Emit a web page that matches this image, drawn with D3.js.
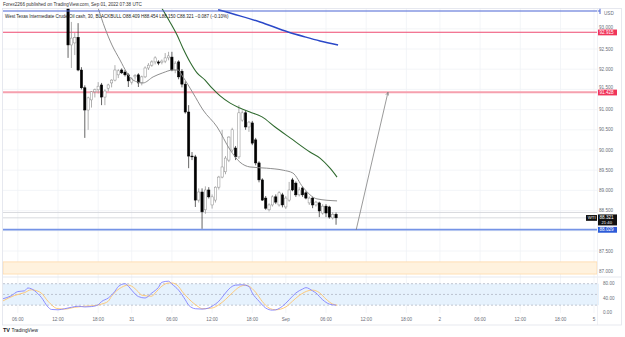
<!DOCTYPE html>
<html>
<head>
<meta charset="utf-8">
<script src="https://cdn.jsdelivr.net/npm/d3@7/dist/d3.min.js"></script>
<style>
body { margin: 0; background: #fff; }
svg text { font-family: "Liberation Sans", Arial, sans-serif; }
</style>
</head>
<body>
<script>
// ---- data (bar index = 30 min bars, 0 = Aug 30 06:00) ----
var timeTickLabels = ["06:00","12:00","18:00","31","06:00","12:00","18:00","Sep","06:00","12:00","18:00","2","06:00","12:00","18:00","5"];
var timeTickBars   = [0, 12, 24, 34, 46, 58, 70, 80, 92, 104, 116, 126, 138, 150, 162, 172];
var priceTicks = [87, 87.5, 88, 88.5, 89, 89.5, 90, 90.5, 91, 91.5, 92, 92.5, 93];

var firstBar = 15;
var candleOpen  = [93.65,92.60,92.65,92.79,91.98,91.54,90.99,91.24,91.44,91.49,91.61,91.31,91.53,91.66,91.73,91.86,91.98,91.93,91.86,91.68,
                   91.81,91.86,91.66,91.81,92.03,92.10,92.18,92.18,92.16,92.20,92.28,92.30,91.98,92.18,91.95,91.63,90.94,89.85,89.83,88.76,
                   88.96,88.52,89.01,88.64,88.76,89.08,89.33,89.46,89.75,90.00,90.05,89.83,90.74,90.92,90.57,90.67,90.25,89.68,89.26,88.81,
                   88.52,88.64,88.84,88.64,88.89,88.59,88.76,89.26,89.18,88.89,89.06,88.94,88.69,88.81,88.64,88.69,88.44,88.61,88.59,88.32,88.409];
var candleHigh  = [93.75,93.17,92.90,93.14,92.05,91.60,91.32,91.46,91.52,91.68,91.66,91.50,91.64,91.75,92.10,92.00,92.02,91.98,91.90,91.80,
                   91.88,91.90,91.84,92.07,92.15,92.22,92.32,92.22,92.24,92.40,92.43,92.43,92.20,92.22,92.00,91.70,91.11,89.95,89.88,89.05,
                   89.05,89.10,89.08,88.90,89.10,89.36,90.50,89.85,90.34,90.55,90.10,91.11,90.98,90.98,90.72,90.72,90.30,89.72,89.30,88.86,
                   88.68,88.88,88.90,88.98,88.94,88.86,89.21,89.31,89.22,89.08,89.10,88.98,88.85,88.84,88.74,88.72,88.66,88.66,88.62,88.46,88.454];
var candleLow   = [92.28,92.03,92.35,91.95,91.50,90.30,90.50,91.05,91.30,91.40,91.11,91.11,91.45,91.55,91.70,91.78,91.88,91.82,91.56,91.62,
                   91.74,91.56,91.60,91.78,91.98,92.06,92.12,92.10,92.12,92.15,92.22,91.95,91.90,91.75,91.55,90.90,89.55,89.75,88.59,88.70,
                   88.05,88.42,88.80,88.55,88.70,89.02,89.30,89.40,89.70,89.95,89.75,89.78,90.70,90.50,90.45,90.12,89.62,89.20,88.74,88.52,
                   88.48,88.60,88.66,88.60,88.58,88.54,88.72,88.98,88.84,88.85,88.84,88.78,88.64,88.56,88.60,88.34,88.40,88.34,88.30,88.28,88.150];
var candleClose = [92.60,92.77,92.78,91.98,91.54,90.99,91.29,91.44,91.49,91.58,91.31,91.46,91.61,91.73,91.98,91.96,91.91,91.86,91.71,91.76,
                   91.84,91.66,91.81,92.03,92.10,92.18,92.28,92.15,92.20,92.28,92.33,91.98,92.15,91.81,91.63,90.94,89.85,89.83,88.76,88.96,
                   88.47,89.01,88.84,88.84,89.08,89.33,89.58,89.80,90.32,90.50,89.83,90.92,90.92,90.57,90.69,90.17,89.68,89.26,88.76,88.56,
                   88.64,88.84,88.71,88.94,88.64,88.81,89.01,89.01,88.89,89.01,88.89,88.81,88.81,88.64,88.71,88.49,88.61,88.44,88.34,88.41,88.321];

var grayMaBars = [24, 26, 28.1, 30.5, 32.6, 34.4, 37.4, 40.4, 43.3, 46.3, 47.8, 49.3, 52.3, 55.3, 59.5, 63.4, 66.3, 69.3, 74.3, 79.2, 82.1, 85.1, 89.3, 95.3];
var grayMa     = [93.51, 93.02, 92.60, 92.23, 91.91, 91.73, 91.66, 91.81, 91.91, 91.98, 91.98, 91.81, 91.41, 90.99, 90.57, 90.00, 89.70, 89.58, 89.55, 89.50, 89.43, 89.08, 88.79, 88.74];
var greenMaBars = [43, 45.4, 47.5, 49.3, 51.4, 53.5, 55.9, 58, 60.4, 63.4, 66.3, 69.3, 72.9, 76.8, 81.3, 87.2, 90.2, 93.2, 95.3];
var greenMa     = [93.51, 93.17, 92.85, 92.52, 92.18, 91.91, 91.73, 91.53, 91.34, 91.16, 91.04, 90.94, 90.82, 90.57, 90.30, 89.95, 89.80, 89.55, 89.33];
var blueMaBars = [59.8, 66.3, 72.3, 80.7, 85.7, 90.2, 95.6];
var blueMa     = [93.47, 93.32, 93.17, 92.92, 92.80, 92.70, 92.60];

var levelPrices = [92.915, 91.428, 88.029];
var levelLabels = ["92.915", "91.428", "88.029"];
var topLinePrice = 93.44;
var zoneTop = 87.23, zoneBottom = 86.93;
var arrowBars = [101, 110.5];
var arrowPrices = [88.02, 91.43];
var lastPrice = 88.321, lastHigh = 88.454;

var stochKBars = [-4.4,-2,0,2,3,4,6,7,9,10,12,14,16,18,20,22,24,25,27,29,30,32,33,34,36,38,40,42,43,45,46,48,50,51,53,55,57,58,60,62,63,65,67,69,70,72,74,76,77,79,81,83,85,86,88,89,91,93,95];
var stochK     = [38,46,58,60,68,66,52,42,15,8,7,10,14,17,15,16,21,30,40,59,72,80,73,62,44,40,54,70,84,87,79,62,35,20,10,9,12,17,31,54,65,76,77,72,54,31,12,6,7,17,35,54,65,69,60,54,35,23,20];
var stochDBars = [-4.4,-1,2,4,6,7,9,12,14,17,20,22,25,27,28,31,33,34,36,37,40,41,43,45,46,48,49,51,54,55,58,60,62,64,66,68,69,71,73,75,77,80,82,84,87,88,90,92,94,95.4];
var stochD     = [32,47,55,63,59,54,31,10,9,14,17,18,23,31,45,70,76,73,57,48,45,54,73,82,82,72,59,38,15,10,12,21,36,54,70,76,73,56,30,12,7,15,31,47,61,62,55,37,23,20];
var stochTicks = [80, 40, 0];

// ---- layout ----
var W = 625, H = 337;
var paneL = 3, paneR = 597, mainTop = 8, mainBot = 277, oscBot = 313;

var svg = d3.select("body").append("svg")
    .attr("width", W).attr("height", H);

var x = d3.scaleLinear().domain([0, 172]).range([17.8, 594]);
var y = d3.scaleLinear().domain([87, 93]).range([271.2, 28.8]);
var yOsc = d3.scaleLinear().domain([0, 80]).range([312.3, 283.7]);

svg.append("defs").append("clipPath").attr("id", "mainClip")
  .append("rect").attr("x", paneL).attr("y", mainTop)
  .attr("width", paneR - paneL).attr("height", mainBot - mainTop);

// grid
svg.append("g").selectAll("line").data(timeTickBars).enter().append("line")
    .attr("x1", function(d){ return x(d); }).attr("x2", function(d){ return x(d); })
    .attr("y1", mainTop).attr("y2", oscBot)
    .attr("stroke", "#f0f2f6").attr("stroke-width", 0.8);
svg.append("g").selectAll("line").data(priceTicks).enter().append("line")
    .attr("x1", paneL).attr("x2", paneR)
    .attr("y1", function(d){ return y(d); }).attr("y2", function(d){ return y(d); })
    .attr("stroke", "#f0f2f6").attr("stroke-width", 0.8);

// orange zone
svg.append("rect")
    .attr("x", paneL).attr("width", paneR - paneL)
    .attr("y", y(zoneTop)).attr("height", y(zoneBottom) - y(zoneTop))
    .attr("fill", "#fff2de").attr("stroke", "#ffd9a8").attr("stroke-width", 0.8);

var main = svg.append("g").attr("clip-path", "url(#mainClip)");

// horizontal levels
var levelColors = ["#ee4a70", "#f6a0ae", "#7593e6"];
var levelWidths = [1.2, 2, 1.6];
levelPrices.forEach(function(p, i){
  main.append("line")
    .attr("x1", paneL).attr("x2", paneR)
    .attr("y1", y(p)).attr("y2", y(p))
    .attr("stroke", levelColors[i]).attr("stroke-width", levelWidths[i]);
});
// current price / high lines
[lastHigh, lastPrice].forEach(function(p){
  main.append("line")
    .attr("x1", paneL).attr("x2", paneR)
    .attr("y1", y(p)).attr("y2", y(p))
    .attr("stroke", "#cfd1d6").attr("stroke-width", 0.8);
});

// candles
var candles = candleOpen.map(function(o, i){
  return { bar: firstBar + i, o: o, h: candleHigh[i], l: candleLow[i], c: candleClose[i] };
});
var cg = main.append("g");
cg.selectAll("line.wick").data(candles).enter().append("line")
    .attr("class", "wick")
    .attr("x1", function(d){ return x(d.bar); }).attr("x2", function(d){ return x(d.bar); })
    .attr("y1", function(d){ return y(d.h); }).attr("y2", function(d){ return y(d.l); })
    .attr("stroke", function(d){ return d.c < d.o ? "#222" : "#8c8c8c"; })
    .attr("stroke-width", 0.7);
cg.selectAll("rect").data(candles).enter().append("rect")
    .attr("x", function(d){ return x(d.bar) - 1.15; })
    .attr("width", 2.3)
    .attr("y", function(d){ return y(Math.max(d.o, d.c)); })
    .attr("height", function(d){ return Math.max(0.8, Math.abs(y(d.o) - y(d.c))); })
    .attr("fill", function(d){ return d.c < d.o ? "#000" : "#fff"; })
    .attr("stroke", function(d){ return d.c < d.o ? "#000" : "#8c8c8c"; })
    .attr("stroke-width", 0.5);

// moving averages
function maLine(bars, vals, color, width){
  var pts = bars.map(function(b, i){ return [b, vals[i]]; });
  main.append("path").datum(pts)
    .attr("d", d3.line().x(function(d){ return x(d[0]); }).y(function(d){ return y(d[1]); }).curve(d3.curveMonotoneX))
    .attr("fill", "none").attr("stroke", color).attr("stroke-width", width);
}
maLine(grayMaBars, grayMa, "#8f8f8f", 1);
maLine(greenMaBars, greenMa, "#2f6a2f", 1.1);
maLine(blueMaBars, blueMa, "#2a48c8", 1.5);

// top blue line
svg.append("line")
    .attr("x1", paneL).attr("x2", 600)
    .attr("y1", y(topLinePrice)).attr("y2", y(topLinePrice))
    .attr("stroke", "#4a64d4").attr("stroke-width", 1.1);
svg.append("line")
    .attr("x1", 600).attr("x2", 600)
    .attr("y1", y(topLinePrice) - 3).attr("y2", y(topLinePrice) + 3)
    .attr("stroke", "#4a64d4").attr("stroke-width", 1);

// arrow
svg.select("defs").append("marker").attr("id", "arrowHead")
    .attr("viewBox", "0 0 10 10").attr("refX", 9).attr("refY", 5)
    .attr("markerWidth", 5).attr("markerHeight", 5).attr("orient", "auto")
  .append("path").attr("d", "M1,1 L9,5 L1,9").attr("fill", "none")
    .attr("stroke", "#777").attr("stroke-width", 1.4);
svg.append("line")
    .attr("x1", x(arrowBars[0])).attr("y1", y(arrowPrices[0]))
    .attr("x2", x(arrowBars[1])).attr("y2", y(arrowPrices[1]))
    .attr("stroke", "#808080").attr("stroke-width", 0.8)
    .attr("marker-end", "url(#arrowHead)");

// oscillator pane
svg.append("rect")
    .attr("x", paneL).attr("width", paneR + 2 - paneL)
    .attr("y", yOsc(80)).attr("height", yOsc(20) - yOsc(80))
    .attr("fill", "#e6f2fd");
[80, 50, 20].forEach(function(v){
  svg.append("line")
    .attr("x1", paneL).attr("x2", paneR + 2)
    .attr("y1", yOsc(v)).attr("y2", yOsc(v))
    .attr("stroke", "#a9b0bd").attr("stroke-width", 0.7)
    .attr("stroke-dasharray", "2,2");
});
function oscLine(bars, vals, color){
  var pts = bars.map(function(b, i){ return [b, vals[i]]; });
  svg.append("path").datum(pts)
    .attr("d", d3.line().x(function(d){ return Math.max(paneL, x(d[0])); }).y(function(d){ return yOsc(d[1]); }).curve(d3.curveMonotoneX))
    .attr("fill", "none").attr("stroke", color).attr("stroke-width", 0.9);
}
oscLine(stochDBars, stochD, "#ffc46b");
oscLine(stochKBars, stochK, "#8282ff");

// separators and frame
svg.append("line").attr("x1", paneL).attr("x2", 621).attr("y1", mainBot).attr("y2", mainBot)
    .attr("stroke", "#e0e3eb").attr("stroke-width", 0.8);
svg.append("line").attr("x1", paneR + 0.5).attr("x2", paneR + 0.5).attr("y1", mainTop).attr("y2", 325)
    .attr("stroke", "#eceef2").attr("stroke-width", 0.8);
svg.append("rect").attr("x", 2.5).attr("y", 8.5).attr("width", 619).attr("height", 316.5)
    .attr("fill", "none").attr("stroke", "#e0e3eb").attr("stroke-width", 0.8);

// price axis labels (the level labels cover some; keep those just above their box)
var labelHalf = 2.7;
function tickBaseline(p){
  var base = y(p) + 1.6;
  levelPrices.forEach(function(lp){
    var top = y(lp) - labelHalf;
    if (base > top - 0.2 && y(p) < y(lp) + labelHalf) base = Math.min(base, top - 0.3);
  });
  return base;
}
svg.append("g").selectAll("text").data(priceTicks.filter(function(p){
      return levelPrices.every(function(lp){ return Math.abs(y(p) - y(lp)) > 2.5; });
    })).enter().append("text")
    .attr("x", 599).attr("y", function(d){ return tickBaseline(d); })
    .attr("font-size", 4.6).attr("fill", "#6a6d78")
    .text(function(d){ return d3.format(".3f")(d); });
svg.append("text").attr("x", 604).attr("y", 14.6).attr("font-size", 4.6).attr("fill", "#6a6d78").text("USD");

// level labels
var labelBg = ["#f0355a", "#f0355a", "#2d5bd8"];
levelPrices.forEach(function(p, i){
  svg.append("rect").attr("x", 598).attr("y", y(p) - labelHalf).attr("width", 19).attr("height", labelHalf * 2 + 0.4)
    .attr("fill", labelBg[i]);
  svg.append("text").attr("x", 599.5).attr("y", y(p) + 1.8)
    .attr("font-size", 4.6).attr("fill", "#fff").text(levelLabels[i]);
});
// current price label
svg.append("rect").attr("x", 598).attr("y", y(lastPrice) - 3.4).attr("width", 19).attr("height", 11).attr("fill", "#111");
svg.append("text").attr("x", 599.5).attr("y", y(lastPrice) + 1.5).attr("font-size", 4.6).attr("fill", "#fff").text("88.321");
svg.append("text").attr("x", 601.5).attr("y", y(lastPrice) + 6.3).attr("font-size", 4.2).attr("fill", "#fff").text("21:40");
svg.append("rect").attr("x", 586).attr("y", y(lastPrice) - 2.8).attr("width", 11).attr("height", 5.8).attr("fill", "#111");
svg.append("text").attr("x", 587.8).attr("y", y(lastPrice) + 1.5).attr("font-size", 4.3).attr("fill", "#fff").text("WTI");

// oscillator labels
svg.append("g").selectAll("text").data(stochTicks).enter().append("text")
    .attr("x", 603).attr("y", function(d){ return yOsc(d) + 1.6; })
    .attr("font-size", 4.6).attr("fill", "#6a6d78")
    .text(function(d){ return d3.format(".2f")(d); });

// time axis labels
svg.append("g").selectAll("text").data(timeTickBars).enter().append("text")
    .attr("x", function(d){ return x(d); }).attr("y", 320.5)
    .attr("text-anchor", "middle")
    .attr("font-size", 4.6).attr("fill", "#6a6d78")
    .text(function(d, i){ return timeTickLabels[i]; });

// header texts
svg.append("text").attr("x", 3).attr("y", 6).attr("font-size", 4.6).attr("fill", "#333")
    .text("Forex2266 published on TradingView.com, Sep 01, 2022 07:38 UTC");
svg.append("text").attr("x", 5).attr("y", 17.5).attr("font-size", 4.5).attr("fill", "#222")
    .text("West Texas Intermediate Crude Oil cash, 30, BLACKBULL   O88.409  H88.454  L88.150  C88.321  \u22120.087 (\u22120.10%)");

// footer logo
svg.append("text").attr("x", 3).attr("y", 332).attr("font-size", 5.5).attr("font-weight", "bold").attr("fill", "#131722").text("TV");
svg.append("text").attr("x", 11.5).attr("y", 332).attr("font-size", 4.8).attr("fill", "#131722").text("TradingView");
</script>
</body>
</html>
